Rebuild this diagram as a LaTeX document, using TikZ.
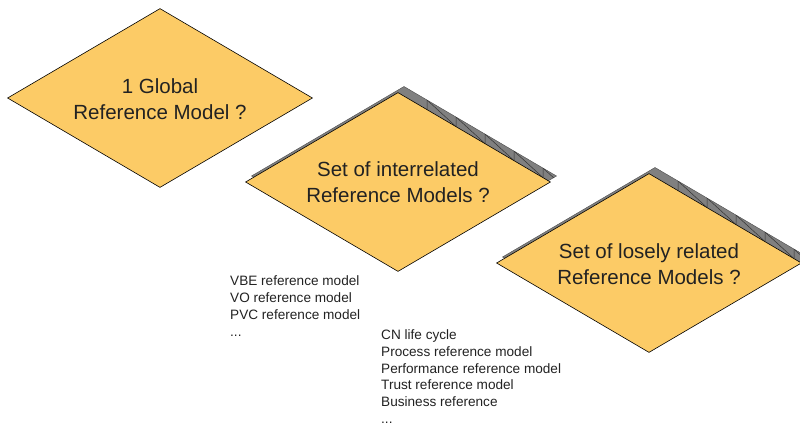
\documentclass[tikz,border=0pt]{standalone}
\usepackage{fontspec}
\setmainfont{Liberation Sans}
\usetikzlibrary{shapes.geometric,calc}
\definecolor{diamondfill}{HTML}{FCCB66}
\definecolor{inktext}{HTML}{222222}
\begin{document}
\begin{tikzpicture}[x=1pt,y=-1pt,
  question/.style={diamond, draw=black, line width=0.6pt, fill=diamondfill,
    minimum width=305pt, minimum height=179pt, inner sep=0pt},
  qtext/.style={align=center, inner sep=0pt,
    font=\fontsize{20.5}{26}\selectfont, text=inktext},
  shadowfill/.style={fill=black!50, draw=black!70, line width=0.4pt},
  shadowmark/.style={draw=black!80, line width=0.5pt},
  listing/.style={anchor=north west, align=left, inner sep=0pt,
    font=\fontsize{13.6}{17}\selectfont, text=inktext}]
\useasboundingbox (0,0) rectangle (800,426);

% raised shadows behind the two right-hand diamonds
\foreach \cx/\cy/\nm in {398/182/interrelated, 649/263/loose}{
  \coordinate (\nm-st) at (\cx+6,\cy-95.5);
  \coordinate (\nm-sr) at (\cx+158.5,\cy-6);
  \coordinate (\nm-sb) at (\cx+6,\cy+83.5);
  \coordinate (\nm-sl) at (\cx-146.5,\cy-6);
  \coordinate (\nm-dt) at (\cx,\cy-89.5);
  \coordinate (\nm-dr) at (\cx+152.5,\cy);
  \path[shadowfill] (\nm-st) -- (\nm-sr) -- (\nm-sb) -- (\nm-sl) -- cycle;
  \begin{scope}
    \clip (\nm-st) -- (\nm-sr) -- (\nm-sb) -- (\nm-sl) -- cycle;
    \foreach \k in {1,...,5}{
      \draw[shadowmark] ($(\nm-st)!{(29*\k-6)/152.5}!(\nm-sr)$)
        -- ($(\nm-dt)!{29*\k/152.5}!(\nm-dr)$);
      \draw[shadowmark] ($(\nm-st)!{(29*\k-6)/152.5}!(\nm-sr)$)
        -- ($(\nm-dt)!{29*(\k+1)/152.5}!(\nm-dr)$);
    }
  \end{scope}
}

% the three candidate structures
\node[question] (global) at (160,98) {};
\node[question] (interrelated) at (398,182) {};
\node[question] (loose) at (649,263) {};

\node[qtext] (globaltext) at ($(global.center)+(0,1.5)$) {1 Global\\Reference Model ?};
\node[qtext] (interrelatedtext) at ($(interrelated.center)+(0,0.5)$) {Set of interrelated\\Reference Models ?};
\node[qtext] (loosetext) at ($(loose.center)+(0,1.5)$) {Set of losely related\\Reference Models ?};

% example models for each option
\node[listing] (intlist) at (230,275.9) {VBE reference model\\VO reference model\\PVC reference model\\...};
\node[listing, font=\fontsize{13.6}{16.7}\selectfont] (looselist) at (381,329.6) {CN life cycle\\Process reference model\\Performance reference model\\Trust reference model\\Business reference\\...};
\end{tikzpicture}
\end{document}
